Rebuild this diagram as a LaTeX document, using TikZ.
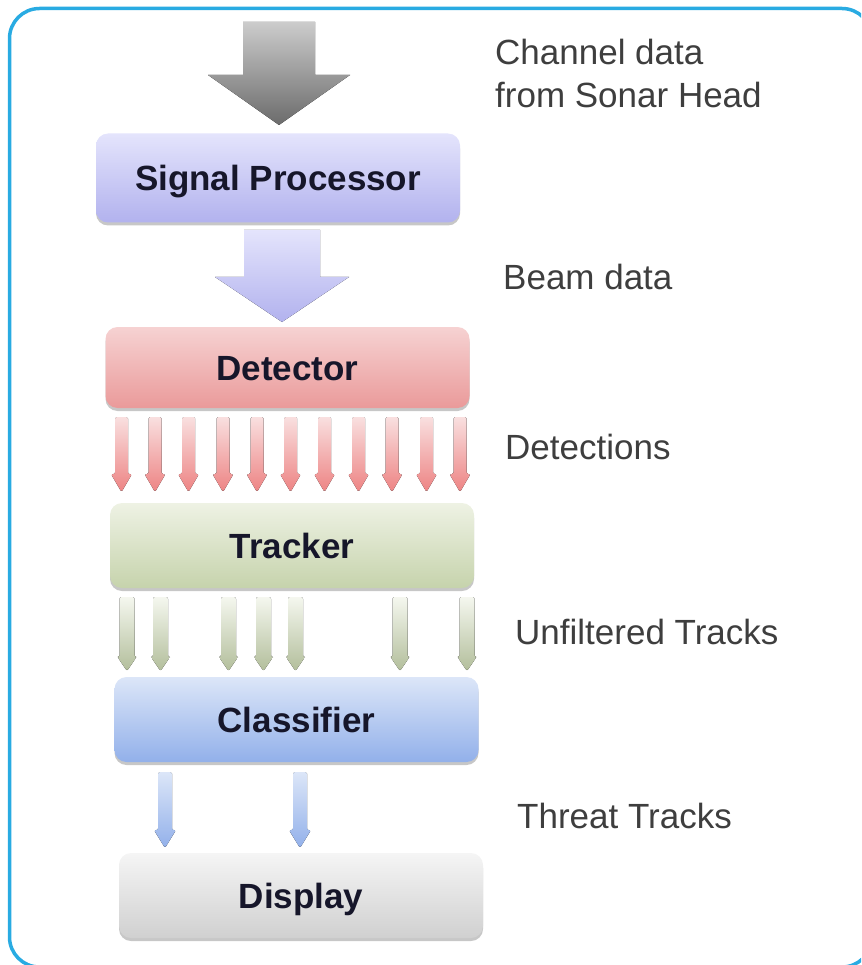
\documentclass[tikz,border=0pt]{standalone}
\usepackage{fontspec}
\setmainfont{Liberation Sans}
\usetikzlibrary{shadows}

\definecolor{frameblue}{HTML}{29ABE2}
\definecolor{boxtext}{HTML}{16162A}
\definecolor{labeltext}{HTML}{3E3E3E}
\definecolor{spTop}{HTML}{E4E4FC}\definecolor{spBot}{HTML}{B2B2EE}
\definecolor{dtTop}{HTML}{F6D2D2}\definecolor{dtBot}{HTML}{EA9A9A}
\definecolor{tkTop}{HTML}{EEF2E4}\definecolor{tkBot}{HTML}{C6D3AC}
\definecolor{clTop}{HTML}{DCE6F8}\definecolor{clBot}{HTML}{92B0EA}
\definecolor{dpTop}{HTML}{F5F5F5}\definecolor{dpBot}{HTML}{D0D0D0}

% fat arrow: [style]{x}{y top}{y head}{y tip}{shaft half width}{head half width}
\newcommand\fatarrow[7][]{%
  \fill[#1] ({#2-#6},#3) -- ({#2+#6},#3) -- ({#2+#6},#4) -- ({#2+#7},#4)
    -- (#2,#5) -- ({#2-#7},#4) -- ({#2-#6},#4) -- cycle;}

\begin{document}
\begin{tikzpicture}[x=1pt,y=-1pt,
  stage/.style={rounded corners=12pt, minimum width=#1, minimum height=86pt,
    inner sep=0pt, text height=25pt, text depth=0pt,
    font=\fontsize{35}{42}\selectfont\bfseries, text=boxtext,
    drop shadow={shadow xshift=0pt, shadow yshift=-3pt, opacity=0.22, fill=black}},
  stage/.default=364pt,
  flowlabel/.style={anchor=base west, inner sep=0pt, text=labeltext,
    font=\fontsize{35}{43}\selectfont, align=left},
]
\useasboundingbox (0,0) rectangle (861,965);

% outer frame, its right and bottom sides run past the page edge
\begin{scope}
  \clip (0,0) rectangle (861,965);
  \draw[frameblue, line width=3.5pt, rounded corners=30pt] (9.5,8.5) rectangle (872,967);
\end{scope}

% processing stages
\node[stage, minimum height=89pt, top color=spTop, bottom color=spBot] (sp)  at (278,178)   {Signal Processor};
\node[stage, minimum height=81pt, top color=dtTop, bottom color=dtBot] (det) at (287.5,367.5) {Detector};
\node[stage, minimum height=85pt, top color=tkTop, bottom color=tkBot] (trk) at (292,545.5) {Tracker};
\node[stage, minimum height=85pt, top color=clTop, bottom color=clBot] (cls) at (296.5,719.5) {Classifier};
\node[stage, minimum height=85pt, top color=dpTop, bottom color=dpBot] (dsp) at (301,895.5) {Display};

% data labels
\node[flowlabel] (lin)  at (495,107.5) {Channel data\\from Sonar Head};
\node[flowlabel] (lbeam) at (503,290) {Beam data};
\node[flowlabel] (ldet) at (505,459.5) {Detections};
\node[flowlabel] (ltrk) at (515,644.5) {Unfiltered Tracks};
\node[flowlabel] (lthr) at (517,828.5) {Threat Tracks};

% channel data into the signal processor
\fatarrow[top color=black!20, bottom color=black!58]{279}{22}{75}{125}{36}{71}

% beam data
\fatarrow[top color=spTop, bottom color=spBot]{282}{230}{277}{322}{38}{67}

% detections
\foreach \x in {121.5,155,188.5,223,257,290.5,324.5,358.5,392,426.5,460}
  \fatarrow[top color=dtTop!70!white, bottom color=dtBot!85!red, rounded corners=1.5pt]{\x}{417}{474}{492}{6.5}{10.5};

% unfiltered tracks
\foreach \x in {127,160.5,228.5,263.5,295.5,400,467}
  \fatarrow[top color=tkTop!60!white, bottom color=tkBot!90!black, rounded corners=2pt]{\x}{597}{657}{671}{7.5}{9.5};

% threat tracks
\foreach \x in {165,300}
  \fatarrow[top color=clTop, bottom color=clBot, rounded corners=1.5pt]{\x}{772}{830}{848}{7}{11};

\end{tikzpicture}
\end{document}
